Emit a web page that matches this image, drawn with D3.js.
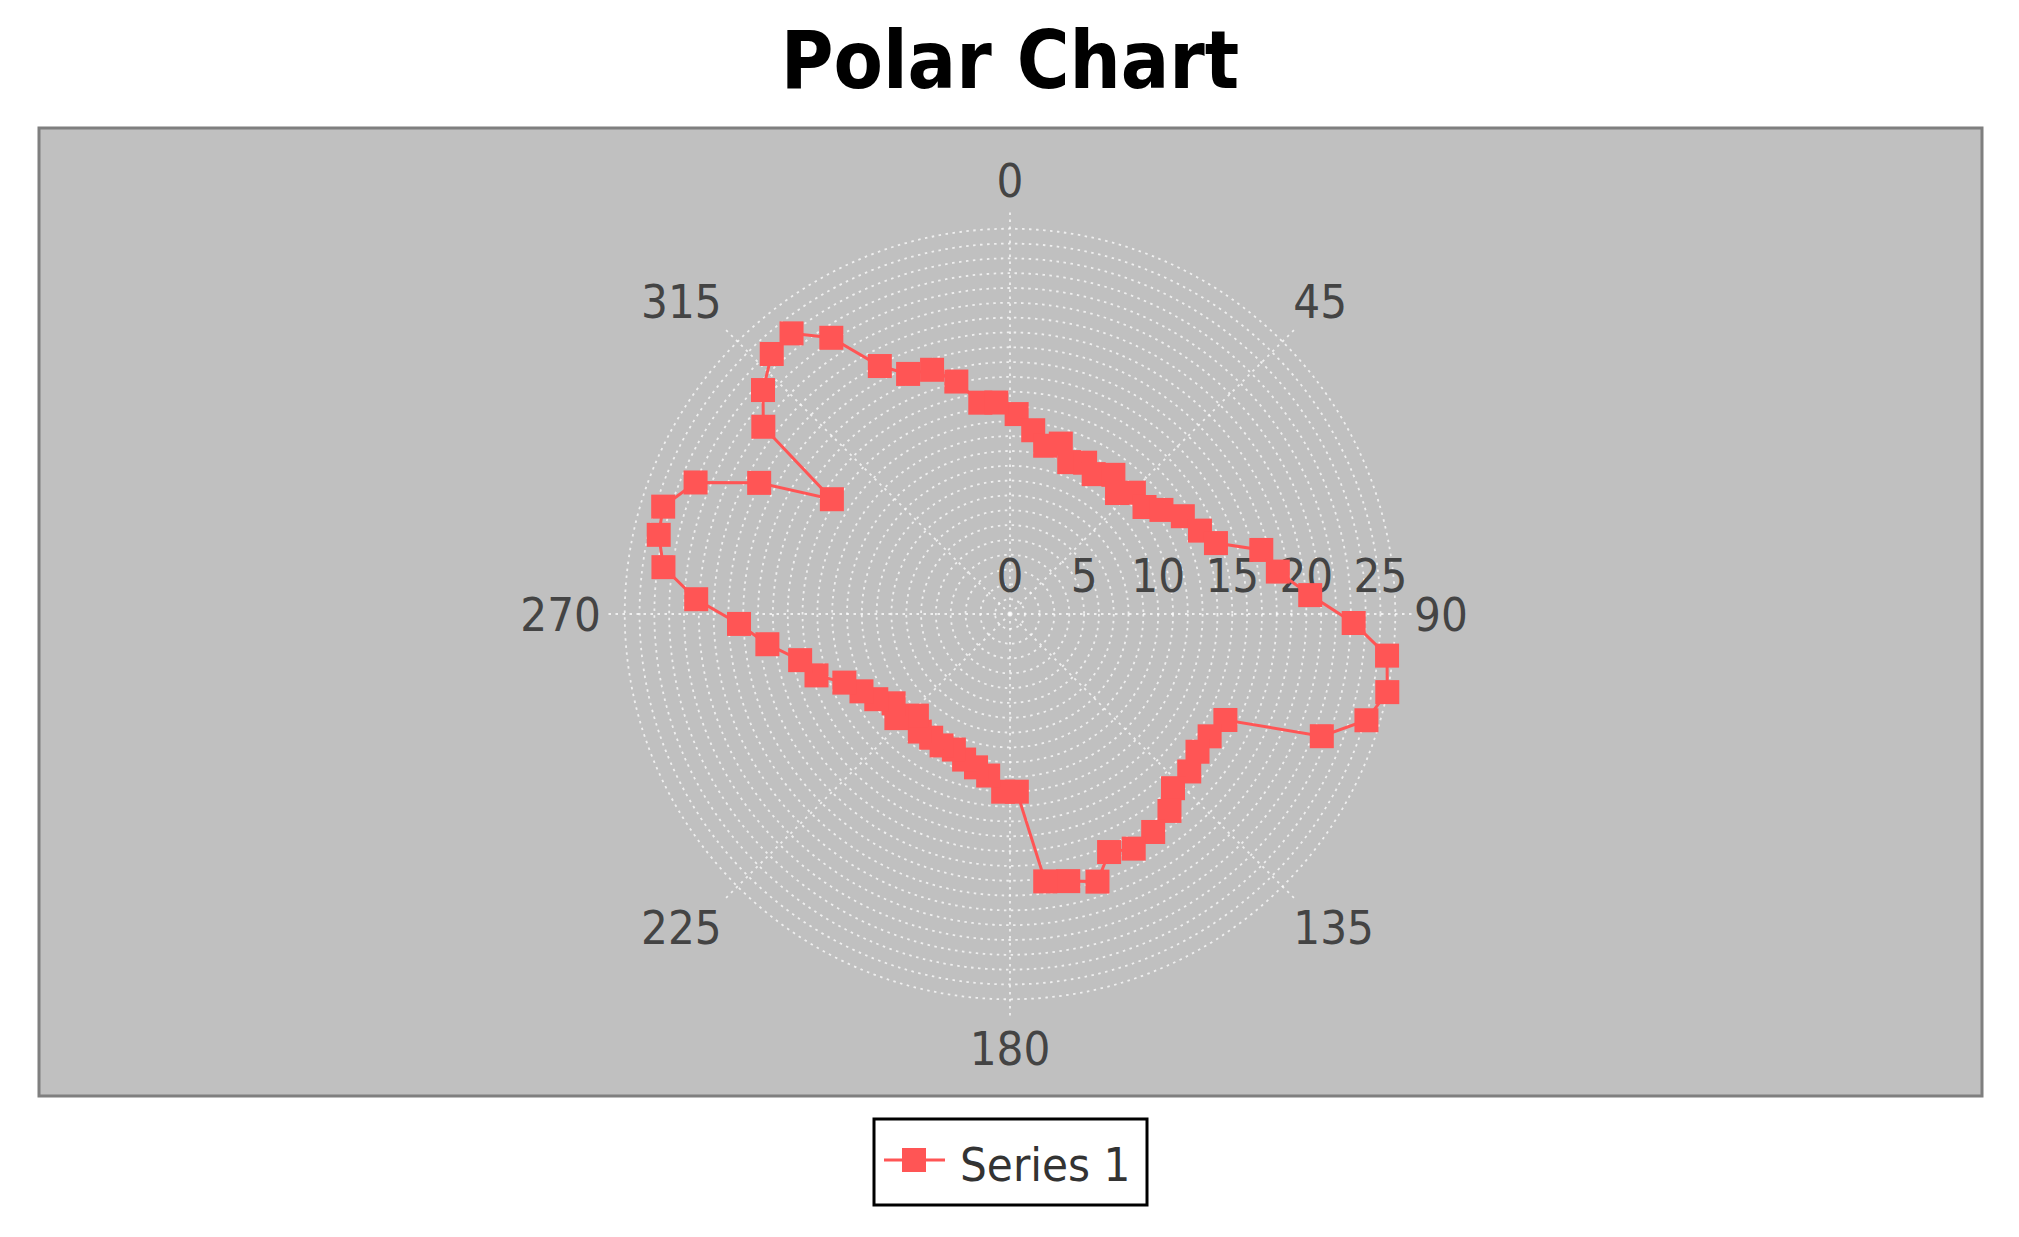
<!DOCTYPE html>
<html>
<head>
<meta charset="utf-8">
<script src="https://cdn.jsdelivr.net/npm/d3@7"></script>
<style>
  body { margin: 0; background: #ffffff; }
  text { font-family: "DejaVu Sans Condensed", "DejaVu Sans", sans-serif; }
</style>
</head>
<body>
<div id="chart"></div>
<script>
var svgWidth = 2019;
var svgHeight = 1237;

// series data: angle (degrees, clockwise from north) and radius
var angles = [1.9, 7.2, 11.8, 16.6, 21.3, 26.4, 30.9, 36.6, 41.5, 45.6, 51.5, 55.5, 60.5, 66.3, 71.0,
  75.7, 81.0, 86.4, 91.5, 96.3, 101.7, 106.6, 111.4, 116.2, 121.5, 126.3, 131.3, 136.9, 141.0, 146.7,
  152.2, 157.4, 161.9, 167.7, 172.5, 177.8, 182.2, 187.7, 192.5, 197.5, 202.5, 207.5, 212.5, 217.5,
  222.5, 227.5, 232.5, 237.5, 242.5, 247.5, 252.4, 257.6, 262.9, 267.9, 272.7, 277.7, 282.7, 287.2,
  292.7, 297.6, 302.8, 307.2, 312.2, 317.5, 322.1, 327.1, 332.3, 337.0, 342.3, 347.0, 352.0, 356.3];
var radii = [13.5, 12.5, 11.6, 12.0, 11.0, 11.4, 11.0, 11.7, 10.9, 11.7, 11.6, 12.4, 13.4, 14.0, 14.7,
  17.5, 18.3, 20.3, 23.2, 25.6, 26.0, 25.1, 22.6, 16.2, 15.8, 15.7, 16.1, 16.1, 17.1, 17.6,
  17.9, 17.4, 19.0, 18.45, 18.2, 12.0, 12.0, 11.0, 10.6, 10.3, 9.9, 10.0, 9.9, 10.0,
  9.3, 10.4, 9.9, 10.7, 11.3, 12.1, 13.7, 14.5, 16.5, 18.3, 21.2, 23.6, 24.3, 24.5,
  23.0, 19.1, 14.3, 20.9, 22.5, 23.8, 24.0, 22.2, 18.9, 17.6, 17.3, 16.1, 14.4, 14.3];
var seriesName = "Series 1";

// axis ticks
var angleTicks = [0, 45, 90, 135, 180, 225, 270, 315];
var radiusLabels = [0, 5, 10, 15, 20, 25];
var radiusMax = 26.15;

var data = angles.map(function (a, i) { return {angle: a, r: radii[i]}; });

var cx = 1010, cy = 614;
var seriesColor = "#ff5555";
var markerSize = 24;
var labelSize = 47;
var capHeight = 34;

var svg = d3.select("#chart")
  .append("svg")
  .attr("width", svgWidth)
  .attr("height", svgHeight);

// title
svg.append("text")
  .attr("x", cx)
  .attr("y", 88)
  .attr("text-anchor", "middle")
  .attr("font-size", 80)
  .attr("font-weight", "bold")
  .attr("fill", "#000")
  .text("Polar Chart");

// plot background
svg.append("rect")
  .attr("x", 39)
  .attr("y", 128)
  .attr("width", 1943)
  .attr("height", 968)
  .attr("fill", "#c0c0c0")
  .attr("stroke", "#7f7f7f")
  .attr("stroke-width", 3);

var rScale = d3.scaleLinear()
  .domain([0, radiusMax])
  .range([0, 387.5]);

var toRad = function (deg) { return deg * Math.PI / 180; };

var g = svg.append("g")
  .attr("transform", `translate(${cx}, ${cy})`);

// dashed grid rings, one for every unit
g.selectAll(".ring")
  .data(rScale.ticks(26).filter(function (d) { return d > 0; }))
  .enter()
  .append("circle")
  .attr("class", "ring")
  .attr("r", function (d) { return rScale(d); })
  .attr("fill", "none")
  .attr("stroke", "#ffffff")
  .attr("stroke-opacity", 0.75)
  .attr("stroke-width", 1.8)
  .attr("stroke-dasharray", "2.5,4.5");

// angle spokes
g.selectAll(".spoke")
  .data(angleTicks)
  .enter()
  .append("line")
  .attr("class", "spoke")
  .attr("x1", 0)
  .attr("y1", 0)
  .attr("x2", function (d) { return (rScale(radiusMax) + 14) * Math.sin(toRad(d)); })
  .attr("y2", function (d) { return -(rScale(radiusMax) + 14) * Math.cos(toRad(d)); })
  .attr("stroke", "#ffffff")
  .attr("stroke-opacity", 0.75)
  .attr("stroke-width", 1.8)
  .attr("stroke-dasharray", "2.5,4.5");

// angle labels: the near edge of each label touches a circle just outside the grid
var labelR = 412;
g.selectAll(".angleLabel")
  .data(angleTicks)
  .enter()
  .append("text")
  .attr("class", "angleLabel")
  .attr("x", function (d) {
    var s = Math.sin(toRad(d));
    var x = labelR * s;
    if (s > 0.01) return x - 8;
    if (s < -0.01) return x + 3;
    return x;
  })
  .attr("y", function (d) {
    var c = Math.cos(toRad(d));
    var y = -labelR * c;
    if (c > 0.01) return y - 5;                    // upper labels sit on the anchor
    if (c < -0.01) return y + capHeight + 5;       // lower labels hang below it
    return y + capHeight / 2;
  })
  .attr("text-anchor", function (d) {
    var s = Math.sin(toRad(d));
    if (s > 0.01) return "start";
    if (s < -0.01) return "end";
    return "middle";
  })
  .attr("font-size", labelSize)
  .attr("fill", "#444444")
  .text(function (d) { return d; });

// radius axis labels
g.selectAll(".radiusLabel")
  .data(radiusLabels)
  .enter()
  .append("text")
  .attr("class", "radiusLabel")
  .attr("x", function (d) { return rScale(d); })
  .attr("y", -39)
  .attr("dy", "0.36em")
  .attr("text-anchor", "middle")
  .attr("font-size", labelSize)
  .attr("fill", "#444444")
  .text(function (d) { return d; });

// series line (closed)
var line = d3.lineRadial()
  .angle(function (d) { return toRad(d.angle); })
  .radius(function (d) { return rScale(d.r); })
  .curve(d3.curveLinearClosed);

g.append("path")
  .datum(data)
  .attr("d", line)
  .attr("fill", "none")
  .attr("stroke", seriesColor)
  .attr("stroke-width", 3);

// square markers
g.selectAll(".marker")
  .data(data)
  .enter()
  .append("rect")
  .attr("class", "marker")
  .attr("x", function (d) { return rScale(d.r) * Math.sin(toRad(d.angle)) - markerSize / 2; })
  .attr("y", function (d) { return -rScale(d.r) * Math.cos(toRad(d.angle)) - markerSize / 2; })
  .attr("width", markerSize)
  .attr("height", markerSize)
  .attr("fill", seriesColor);

// legend
var legend = svg.append("g");

legend.append("rect")
  .attr("x", 874)
  .attr("y", 1119)
  .attr("width", 273)
  .attr("height", 86)
  .attr("fill", "#ffffff")
  .attr("stroke", "#000000")
  .attr("stroke-width", 3);

legend.append("line")
  .attr("x1", 884)
  .attr("x2", 945)
  .attr("y1", 1160)
  .attr("y2", 1160)
  .attr("stroke", seriesColor)
  .attr("stroke-width", 3);

legend.append("rect")
  .attr("x", 914 - markerSize / 2)
  .attr("y", 1160 - markerSize / 2)
  .attr("width", markerSize)
  .attr("height", markerSize)
  .attr("fill", seriesColor);

legend.append("text")
  .attr("x", 960)
  .attr("y", 1181)
  .attr("font-size", labelSize)
  .attr("fill", "#333333")
  .text(seriesName);
</script>
</body>
</html>
